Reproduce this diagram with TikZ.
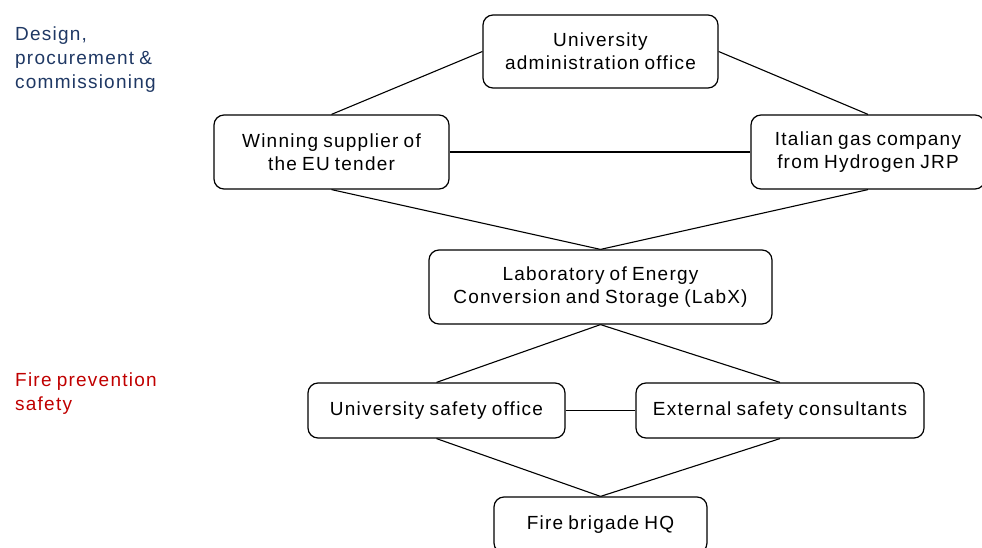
\documentclass[tikz,border=0pt]{standalone}
\usepackage{fontspec}
\setmainfont{Liberation Sans}[LetterSpace=6.5,WordSpace=0.8]
\definecolor{hdblue}{HTML}{1F3864}
\definecolor{hdred}{HTML}{C00000}
\begin{document}
\begin{tikzpicture}[x=1pt,y=-1pt,
  box/.style={draw=black, line width=1.2pt, rounded corners=10pt, fill=white, align=center,
    inner sep=0pt, font=\fontsize{19}{23}\selectfont},
  link/.style={draw=black, line width=1.1pt},
  sidelabel/.style={anchor=north west, align=left, inner sep=0pt, font=\fontsize{19}{24}\selectfont}]
\useasboundingbox (0,0) rectangle (982,548);
\node[box, minimum width=235pt, minimum height=73pt] (admin) at (600.5,51.5) {University\\administration office};
\node[box, minimum width=235pt, minimum height=74pt] (win) at (331.5,152) {Winning supplier of\\the EU tender};
\node[box, minimum width=234pt, minimum height=74pt] (ital) at (868,152) {Italian gas company\\from Hydrogen JRP};
\node[box, minimum width=343pt, minimum height=74pt] (lab) at (600.5,287) {Laboratory of Energy\\Conversion and Storage (LabX)};
\node[box, minimum width=257pt, minimum height=55pt] (usafe) at (436.5,410.5) {University safety office};
\node[box, minimum width=288pt, minimum height=55pt] (ext) at (780,410.5) {External safety consultants};
\node[box, minimum width=213pt, minimum height=56pt] (fire) at (600.5,525) {Fire brigade HQ};
\node[sidelabel, text=hdblue] (lbl1) at (15,27) {Design,\\procurement \&\\commissioning};
\node[sidelabel, text=hdred] (lbl2) at (15,373) {Fire prevention\\safety};
\draw[link] (admin.west) -- (win.north);
\draw[link] (admin.east) -- (ital.north);
\draw[link] (win.east) -- (ital.west);
\draw[link] (win.south) -- (lab.north);
\draw[link] (ital.south) -- (lab.north);
\draw[link] (lab.south) -- (usafe.north);
\draw[link] (lab.south) -- (ext.north);
\draw[link] (usafe.east) -- (ext.west);
\draw[link] (usafe.south) -- (fire.north);
\draw[link] (ext.south) -- (fire.north);
\end{tikzpicture}
\end{document}
